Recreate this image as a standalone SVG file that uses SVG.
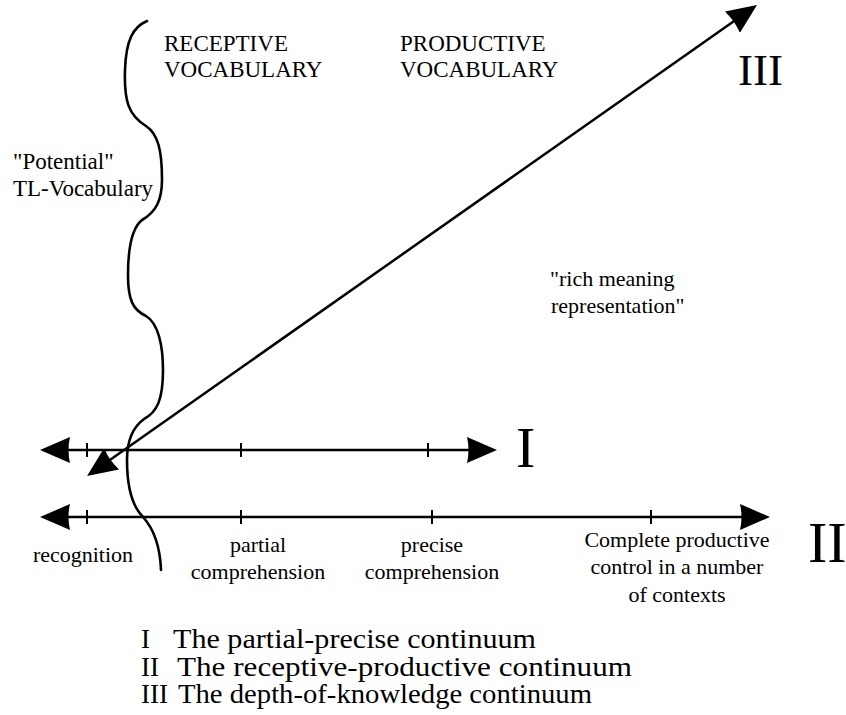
<svg xmlns="http://www.w3.org/2000/svg" width="846" height="715" viewBox="0 0 846 715">
<style>
text{font-family:"Liberation Serif","Times New Roman",serif;fill:#000}
.lb{font-size:22px}
.tp{font-size:23px}
.mid{text-anchor:middle}
.big{font-size:58px}
.lg{font-size:27px}
.ax{stroke:#000;stroke-width:2.5;fill:none}
.tk{stroke:#000;stroke-width:2;fill:none}
.brace{stroke:#000;stroke-width:2.6;fill:none;stroke-linecap:round}
</style>
<defs>
<marker id="ah" viewBox="0 0 30 26" markerWidth="30" markerHeight="26" refX="26" refY="13" orient="auto-start-reverse" markerUnits="userSpaceOnUse">
<path d="M0,0 L30,13 L0,26 Q3,13 0,0 Z" fill="#000"/>
</marker>
</defs>
<rect width="846" height="715" fill="#fff"/>
<g id="brace">
<path class="brace" d="M147,21 C133,27 126,40 125,70 C124,100 128,115 146,126 C158,134 162,150 162,180 C162,200 156,212 142,220 C132,228 128,250 128,275 C128,300 133,310 146,316 C158,323 163,345 163,370 C163,400 157,412 144,419 C133,427 127,440 127,460 C127,485 131,505 143,517 C153,528 160,545 161,570"/>
</g>
<g id="connectors">
<line class="ax" x1="44" y1="450" x2="493" y2="450" marker-start="url(#ah)" marker-end="url(#ah)"/>
<line class="ax" x1="44" y1="517" x2="766" y2="517" marker-start="url(#ah)" marker-end="url(#ah)"/>
<line class="ax" x1="90.3" y1="473.7" x2="753.7" y2="7.3" marker-start="url(#ah)" marker-end="url(#ah)"/>
<path class="tk" d="M87,443V457M241,443V457M428,443V457M87,510V524M241,510V524M432,510V524M651,510V524"/>
</g>
<g id="axis-labels">
<text class="big" x="516" y="467">I</text>
<text class="big" x="808" y="562">II</text>
<text x="738" y="85" style="font-size:45px">III</text>
</g>
<g id="receptive">
<text class="tp" x="164" y="51">RECEPTIVE</text>
<text class="tp" x="164" y="77">VOCABULARY</text>
</g>
<g id="productive">
<text class="tp" x="400" y="51">PRODUCTIVE</text>
<text class="tp" x="400" y="77">VOCABULARY</text>
</g>
<g id="potential">
<text class="tp" x="13" y="169">"Potential"</text>
<text class="tp" x="13" y="196">TL-Vocabulary</text>
</g>
<g id="rich">
<text class="lb" x="550" y="286">"rich meaning</text>
<text class="lb" x="551" y="313">representation"</text>
</g>
<g id="recognition"><text class="lb mid" x="83" y="562">recognition</text></g>
<g id="partial">
<text class="lb mid" x="258" y="552">partial</text>
<text class="lb mid" x="258" y="579">comprehension</text>
</g>
<g id="precise">
<text class="lb mid" x="432" y="552">precise</text>
<text class="lb mid" x="432" y="579">comprehension</text>
</g>
<g id="complete">
<text class="lb mid" x="677" y="547">Complete productive</text>
<text class="lb mid" x="677" y="574">control in a number</text>
<text class="lb mid" x="677" y="602">of contexts</text>
</g>
<g id="legend">
<text class="lg" y="648"><tspan x="141">I</tspan><tspan x="173" textLength="363" lengthAdjust="spacingAndGlyphs">The partial-precise continuum</tspan></text>
<text class="lg" y="676"><tspan x="141">II</tspan><tspan x="177" textLength="455" lengthAdjust="spacingAndGlyphs">The receptive-productive continuum</tspan></text>
<text class="lg" y="703"><tspan x="141">III</tspan><tspan x="178" textLength="414" lengthAdjust="spacingAndGlyphs">The depth-of-knowledge continuum</tspan></text>
</g>
</svg>
